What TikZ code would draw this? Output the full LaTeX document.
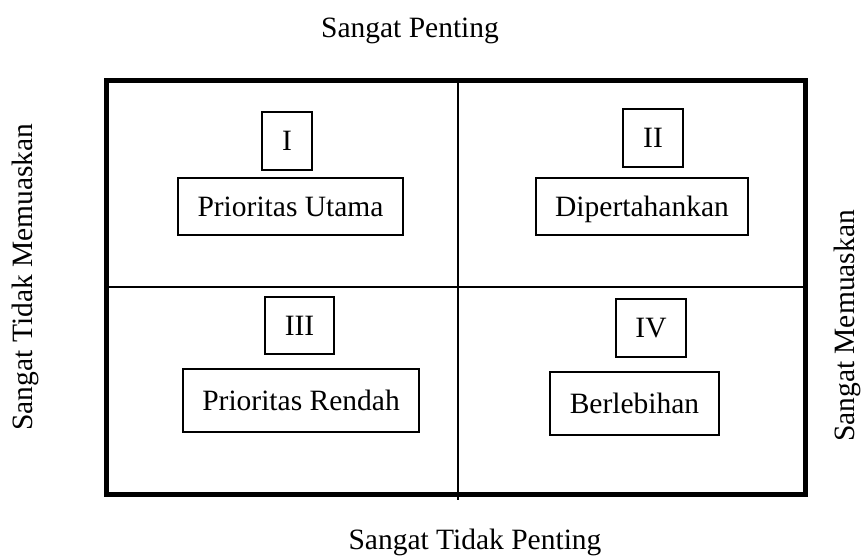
\documentclass[tikz,border=0pt]{standalone}
\usepackage{fontspec}
\setmainfont{Liberation Serif}
\begin{document}
\begin{tikzpicture}[x=1pt,y=-1pt,
  lbl/.style={font=\fontsize{29.5}{34}\selectfont, inner sep=0pt},
  qbox/.style={draw, line width=1.5pt, inner sep=0pt, font=\fontsize{29.5}{34}\selectfont,
    text height=19.5pt, text depth=0pt, minimum width=#1},
  qbox/.default=50pt]
\useasboundingbox (0,0) rectangle (861,559);
% frame and dividers
\coordinate (vt) at (458,80);
\coordinate (vb) at (458,500);
\coordinate (hl) at (106,287);
\coordinate (hr) at (805,287);
\coordinate (tl) at (106,80.5);
\coordinate (br) at (805,494.5);
\draw[line width=2pt] (vt) -- (vb);
\draw[line width=2pt] (hl) -- (hr);
\draw[line width=5pt] (tl) rectangle (br);
% axis labels
\node[lbl, anchor=base] (top) at (410,38) {Sangat Penting};
\node[lbl, anchor=base] (bot) at (475,549.5) {Sangat Tidak Penting};
\node[lbl, anchor=base, rotate=90] (lft) at (32.5,277) {Sangat Tidak Memuaskan};
\node[lbl, anchor=base, rotate=90] (rgt) at (854,326) {Sangat Memuaskan};
% quadrant boxes
\node[qbox=50pt, minimum height=58pt] (q1) at (287,141) {I};
\node[qbox=225pt, minimum height=57pt] (q1t) at (290.5,206.5) {Prioritas Utama};
\node[qbox=60pt, minimum height=58pt] (q2) at (653,138) {II};
\node[qbox=212pt, minimum height=57pt] (q2t) at (642,206.5) {Dipertahankan};
\node[qbox=69pt, minimum height=57pt] (q3) at (299.5,325.5) {III};
\node[qbox=236pt, minimum height=63pt] (q3t) at (301,400.5) {Prioritas Rendah};
\node[qbox=70pt, minimum height=58pt] (q4) at (651,328) {IV};
\node[qbox=169pt, minimum height=63pt] (q4t) at (634.5,403.5) {Berlebihan};
\end{tikzpicture}
\end{document}
